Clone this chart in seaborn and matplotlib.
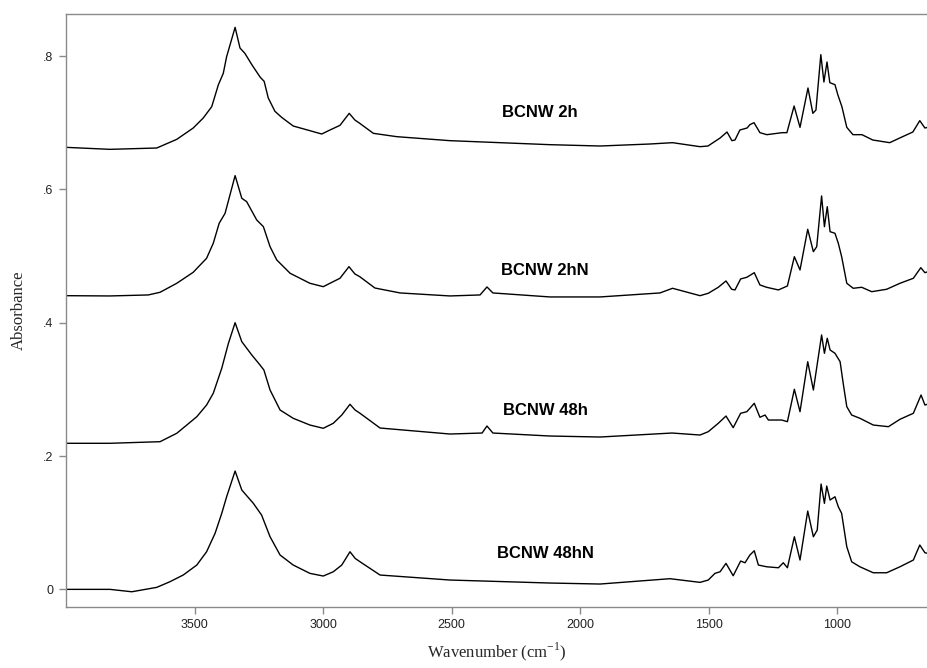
import matplotlib
matplotlib.use("Agg")
import matplotlib.pyplot as plt
import seaborn as sns
import pandas as pd

# ---- data ----
wn_2h = [4000, 3829, 3647, 3569, 3505, 3466, 3433, 3407, 3388, 3375, 3342, 3323, 3304,
         3277, 3244, 3229, 3213, 3187, 3161, 3116, 3051, 3005, 2973, 2934, 2898, 2876,
         2857, 2804, 2713, 2506, 2311, 2117, 1922, 1728, 1640, 1533, 1502, 1455, 1428,
         1409, 1397, 1378, 1350, 1339, 1323, 1300, 1273, 1214, 1195, 1167, 1144, 1113,
         1094, 1082, 1063, 1051, 1039, 1028, 1008, 997, 981, 962, 938, 903, 861, 795,
         756, 705, 678, 658, 647]
ab_2h = [0.663, 0.660, 0.662, 0.675, 0.692, 0.707, 0.724, 0.757, 0.774, 0.799, 0.843,
         0.812, 0.804, 0.787, 0.768, 0.762, 0.737, 0.717, 0.708, 0.695, 0.688, 0.683,
         0.689, 0.696, 0.714, 0.704, 0.699, 0.684, 0.679, 0.673, 0.670, 0.667, 0.665,
         0.668, 0.670, 0.664, 0.665, 0.677, 0.686, 0.673, 0.674, 0.689, 0.692, 0.697,
         0.700, 0.685, 0.682, 0.685, 0.685, 0.725, 0.693, 0.752, 0.714, 0.719, 0.802,
         0.761, 0.791, 0.760, 0.757, 0.742, 0.724, 0.693, 0.682, 0.682, 0.674, 0.670,
         0.677, 0.686, 0.703, 0.692, 0.693]

wn_2hN = [4000, 3829, 3680, 3634, 3569, 3505, 3453, 3427, 3404, 3381, 3342, 3316, 3297,
          3258, 3232, 3206, 3180, 3128, 3051, 2999, 2973, 2934, 2899, 2876, 2857, 2798,
          2700, 2506, 2389, 2362, 2339, 2117, 1922, 1689, 1640, 1533, 1501, 1462, 1432,
          1410, 1397, 1375, 1351, 1336, 1322, 1300, 1274, 1228, 1193, 1166, 1144, 1114,
          1092, 1079, 1060, 1049, 1038, 1027, 1008, 995, 982, 962, 937, 904, 865, 807,
          755, 703, 674, 658, 646]
ab_2hN = [0.4405, 0.4401, 0.4416, 0.4456, 0.4591, 0.4756, 0.4966, 0.5191, 0.5491, 0.5641,
          0.6206, 0.5866, 0.5815, 0.5541, 0.5440, 0.5140, 0.4941, 0.4741, 0.4591, 0.4540,
          0.4591, 0.4666, 0.4840, 0.4731, 0.4690, 0.4520, 0.4446, 0.4401, 0.4416, 0.4536,
          0.4446, 0.4386, 0.4386, 0.4446, 0.4516, 0.4405, 0.4441, 0.4531, 0.4626, 0.4501,
          0.4491, 0.4656, 0.4681, 0.4716, 0.4750, 0.4566, 0.4531, 0.4491, 0.4551, 0.4990,
          0.4791, 0.5401, 0.5065, 0.5140, 0.5901, 0.5440, 0.5740, 0.5365, 0.5341, 0.5191,
          0.4990, 0.4591, 0.4516, 0.4531, 0.4465, 0.4501, 0.4591, 0.4666, 0.4825, 0.4750,
          0.4765]

wn_48h = [4000, 3829, 3634, 3569, 3530, 3491, 3453, 3427, 3394, 3368, 3342, 3316, 3277,
          3245, 3230, 3206, 3167, 3116, 3051, 2999, 2960, 2927, 2895, 2875, 2856, 2778,
          2506, 2381, 2362, 2339, 2117, 1922, 1642, 1533, 1501, 1462, 1432, 1404, 1375,
          1351, 1339, 1322, 1300, 1280, 1267, 1215, 1193, 1166, 1144, 1114, 1092, 1060,
          1049, 1038, 1027, 1008, 988, 976, 962, 943, 911, 859, 800, 755, 703, 673, 658,
          646]
ab_48h = [0.2191, 0.2191, 0.2215, 0.2341, 0.2465, 0.2590, 0.2765, 0.2941, 0.3316, 0.3691,
          0.4000, 0.3715, 0.3515, 0.3365, 0.3290, 0.2990, 0.2690, 0.2566, 0.2465, 0.2416,
          0.2491, 0.2615, 0.2776, 0.2690, 0.2641, 0.2420, 0.2330, 0.2345, 0.2450, 0.2345,
          0.2300, 0.2285, 0.2345, 0.2315, 0.2365, 0.2491, 0.2600, 0.2425, 0.2641, 0.2665,
          0.2716, 0.2791, 0.2581, 0.2615, 0.2540, 0.2540, 0.2515, 0.3001, 0.2665, 0.3415,
          0.2990, 0.3816, 0.3541, 0.3766, 0.3591, 0.3541, 0.3415, 0.3091, 0.2740, 0.2615,
          0.2566, 0.2465, 0.2440, 0.2551, 0.2641, 0.2915, 0.2765, 0.2780]

wn_48hN = [4000, 3829, 3744, 3647, 3596, 3544, 3491, 3453, 3420, 3394, 3375, 3342, 3316,
           3271, 3239, 3206, 3167, 3116, 3051, 2999, 2960, 2927, 2895, 2875, 2856, 2778,
           2506, 2117, 1922, 1650, 1533, 1501, 1475, 1455, 1432, 1404, 1375, 1358, 1339,
           1322, 1306, 1274, 1228, 1209, 1193, 1166, 1144, 1114, 1092, 1077, 1062, 1049,
           1040, 1027, 1008, 995, 982, 962, 943, 911, 859, 807, 755, 703, 678, 658, 646]
ab_48hN = [0.0000, 0.0000, -0.0036, 0.0030, 0.0114, 0.0215, 0.0365, 0.0564, 0.0840, 0.1140,
           0.1389, 0.1775, 0.1490, 0.1290, 0.1115, 0.0789, 0.0515, 0.0365, 0.0240, 0.0200,
           0.0264, 0.0365, 0.0564, 0.0465, 0.0414, 0.0215, 0.0140, 0.0095, 0.0080, 0.0160,
           0.0105, 0.0140, 0.0240, 0.0264, 0.0390, 0.0204, 0.0425, 0.0399, 0.0515, 0.0579,
           0.0365, 0.0339, 0.0324, 0.0399, 0.0324, 0.0789, 0.0440, 0.1175, 0.0789, 0.0890,
           0.1580, 0.1290, 0.1550, 0.1340, 0.1389, 0.1239, 0.1140, 0.0639, 0.0414, 0.0339,
           0.0249, 0.0249, 0.0339, 0.0440, 0.0665, 0.0549, 0.0540]

series_names = ["BCNW 2h", "BCNW 2hN", "BCNW 48h", "BCNW 48hN"]
label_wn = [2156, 2136, 2136, 2136]
label_ab = [0.716, 0.479, 0.268, 0.0545]

x_ticks = [3500, 3000, 2500, 2000, 1500, 1000]
y_ticks = [0, 0.2, 0.4, 0.6, 0.8]
y_tick_labels = ["0", ".2", ".4", ".6", ".8"]

# ---- build long table ----
frames = []
for name, wn, ab in zip(series_names, [wn_2h, wn_2hN, wn_48h, wn_48hN],
                        [ab_2h, ab_2hN, ab_48h, ab_48hN]):
    frames.append(pd.DataFrame({"wn": wn, "ab": ab, "sample": name}))
df = pd.concat(frames, ignore_index=True)

sns.set_style("white")
plt.rcParams["font.family"] = ["Liberation Sans", "DejaVu Sans"]

fig = plt.figure(figsize=(9.28, 6.68), dpi=100)
ax = fig.add_axes([66 / 928, 1 - 606.7 / 668, 1 - 66 / 928, (606.7 - 14) / 668])

sns.lineplot(data=df, x="wn", y="ab", units="sample", estimator=None, sort=False,
             color="black", linewidth=1.0, ax=ax, legend=False)

ax.set_xlim(4000, 646)
ax.set_ylim(-0.026, 0.863)
ax.set_xticks(x_ticks)
ax.set_xticklabels([str(t) for t in x_ticks])
ax.set_yticks(y_ticks)
ax.set_yticklabels(y_tick_labels)

for s in ["left", "bottom", "top", "right"]:
    ax.spines[s].set_color("#8a8a8a")
    ax.spines[s].set_linewidth(1.0)
ax.spines["right"].set_visible(False)

ax.tick_params(axis="both", which="both", direction="out", length=5, width=1,
               color="#8a8a8a", labelsize=9, labelcolor="#222222", pad=4,
               left=True, bottom=True)

ax.set_xlabel("Wavenumber (cm$^{\\mathregular{-1}}$)", family="Liberation Serif",
              fontsize=12, labelpad=7)
ax.set_ylabel("Absorbance", family="Liberation Serif", fontsize=12, labelpad=12)

for name, xw, ya in zip(series_names, label_wn, label_ab):
    ax.text(xw, ya, name, ha="center", va="center", fontsize=12, fontweight="bold",
            color="black")

fig.savefig("out.png", dpi=100)
